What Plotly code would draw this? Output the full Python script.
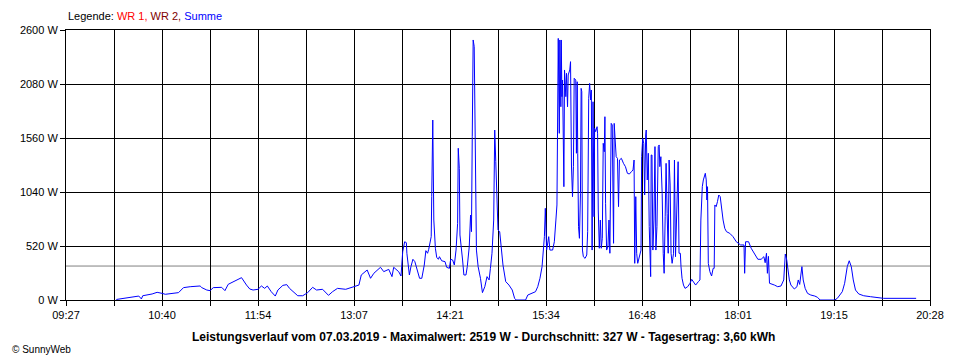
import plotly.graph_objects as go

# ---- data ----
minutes = [
    605.5, 615.1, 622.7, 624.7, 625.7, 632.9, 636.7, 640.5, 643.0, 653.1, 656.9, 662.0, 669.6, 670.9,
    674.7, 677.2, 679.7, 686.1, 688.6, 691.1, 696.2, 701.3, 705.1, 707.6, 710.1, 713.9, 716.5, 719.0,
    721.0, 724.0, 727.1, 729.1, 732.9, 735.9, 738.0, 741.8, 744.3, 748.1, 751.9, 755.7, 758.7, 763.3,
    767.8, 770.9, 774.7, 781.0, 786.1, 788.6, 791.1, 792.9, 797.4, 800.0, 802.5, 807.6, 810.1, 813.9,
    816.4, 817.7, 820.2, 821.5, 823.3, 824.6, 826.1, 827.4, 827.8, 828.9, 829.7, 830.9, 832.4, 833.9,
    835.4, 837.5, 839.2, 841.1, 842.3, 843.6, 844.5, 845.6, 846.4, 846.8, 847.6, 848.4, 848.9, 849.6,
    850.6, 851.9, 852.7, 854.4, 857.0, 858.2, 860.3, 861.3, 862.8, 864.1, 865.4, 866.1, 866.6, 867.1,
    867.9, 868.4, 869.6, 870.4, 871.4, 873.0, 874.0, 875.5, 876.5, 877.2, 877.8, 878.5, 879.3, 880.0,
    881.0, 882.3, 884.1, 885.6, 887.4, 889.1, 890.7, 891.7, 892.9, 894.2, 895.0, 895.8, 896.5, 897.5,
    898.8, 900.0, 901.3, 903.4, 905.9, 908.4, 910.2, 911.4, 918.6, 920.3, 922.8, 926.2, 927.9, 929.6,
    931.2, 932.2, 933.0, 933.7, 934.7, 936.3, 937.2, 939.3, 940.6, 941.8, 942.6, 943.6, 944.4, 944.8,
    945.6, 945.9, 946.4, 946.9, 947.4, 947.9, 948.4, 949.4, 949.9, 950.7, 951.2, 952.4, 953.0, 953.7,
    954.5, 955.2, 955.8, 957.0, 957.5, 958.1, 958.5, 959.1, 959.8, 960.6, 961.1, 961.6, 962.1, 962.8,
    964.1, 965.4, 966.1, 966.9, 967.6, 968.4, 968.9, 969.5, 970.2, 971.0, 971.4, 972.2, 973.3, 973.7,
    974.2, 975.0, 975.8, 976.5, 977.3, 978.0, 978.8, 979.3, 979.8, 980.6, 981.6, 982.4, 983.1, 984.1,
    984.9, 985.4, 985.9, 986.4, 987.2, 987.9, 988.9, 989.7, 990.4, 991.9, 993.5, 995.0, 996.5, 998.0,
    999.6, 1000.8, 1001.6, 1002.1, 1002.9, 1003.6, 1004.4, 1005.6, 1006.9, 1007.4, 1008.2, 1009.0,
    1009.7, 1010.5, 1010.9, 1011.7, 1012.5, 1013.2, 1013.8, 1014.3, 1014.7, 1015.3, 1016.0, 1016.8,
    1017.6, 1018.3, 1019.1, 1020.1, 1020.8, 1021.3, 1022.1, 1023.1, 1023.9, 1024.6, 1025.4, 1026.1,
    1026.9, 1027.7, 1028.4, 1029.2, 1029.9, 1030.7, 1031.8, 1032.5, 1033.3, 1034.0, 1034.8, 1035.3,
    1036.0, 1037.0, 1037.5, 1038.3, 1039.4, 1040.6, 1042.6, 1044.4, 1045.7, 1047.0, 1048.7, 1050.8,
    1052.0, 1052.7, 1053.8, 1054.6, 1055.3, 1056.1, 1056.8, 1057.3, 1057.8, 1058.4, 1059.6, 1060.9,
    1062.1, 1062.9, 1063.4, 1064.4, 1065.4, 1066.4, 1067.5, 1068.5, 1069.7, 1071.0, 1072.3, 1074.8,
    1077.3, 1079.8, 1082.4, 1083.1, 1085.7, 1086.2, 1086.9, 1089.2, 1091.2, 1093.8, 1096.3, 1098.8,
    1100.9, 1101.9, 1102.9, 1103.6, 1104.4, 1105.2, 1107.0, 1109.0, 1111.5, 1114.0, 1116.1, 1117.3,
    1118.4, 1119.4, 1120.4, 1121.6, 1124.2, 1126.2, 1127.2, 1128.3, 1129.2, 1130.0, 1131.0, 1132.5,
    1134.3, 1136.8, 1139.9, 1141.9, 1143.9, 1155.1, 1157.1, 1160.9, 1162.7, 1164.7, 1166.2, 1167.8,
    1169.3, 1171.0, 1173.5, 1177.3, 1182.4, 1186.2, 1192.5, 1217.4,
]
summe_w = [
    5, 20, 38, 10, 41, 58, 74, 64, 55, 71, 119, 128, 135, 119,
    96, 90, 119, 122, 90, 151, 186, 215, 144, 106, 96, 103, 135, 112,
    135, 80, 38, 96, 141, 148, 112, 64, 41, 41, 71, 122, 96, 103,
    45, 80, 112, 103, 122, 135, 144, 241, 289, 209, 257, 315, 273, 295,
    225, 315, 289, 273, 231, 465, 561, 552, 450, 337, 241, 321, 392, 369,
    305, 209, 209, 337, 475, 450, 488, 578, 610, 995, 1733, 770, 642, 498,
    411, 392, 417, 378, 369, 315, 305, 392, 385, 337, 481, 642, 738, 1461,
    1268, 626, 513, 385, 241, 241, 321, 513, 818, 658, 1573, 2504, 2440, 1573,
    481, 321, 209, 71, 128, 225, 193, 305, 450, 770, 1637, 1332, 947, 674,
    658, 530, 337, 177, 144, 96, 16, 0, 0, 48, 64, 80, 128, 209,
    321, 481, 610, 883, 481, 610, 481, 481, 561, 770, 915, 2519, 1605, 2504,
    1861, 2504, 1958, 2118, 1252, 1091, 2215, 1958, 2183, 1861, 2167, 2215, 2295, 1300,
    995, 1284, 2135, 2118, 1413, 2102, 1413, 706, 594, 1027, 2038, 2006, 481, 417,
    401, 433, 658, 1942, 2086, 1926, 2022, 481, 1909, 802, 1653, 1621, 1669, 1600,
    867, 498, 770, 498, 594, 1509, 1428, 1765, 931, 481, 513, 770, 450, 1701,
    1685, 947, 546, 1701, 1428, 1380, 1364, 899, 1348, 1364, 1316, 1284, 1220, 1213,
    1236, 1252, 1348, 353, 995, 450, 353, 433, 481, 1380, 1557, 1509,
    1011, 1589, 1637, 1156, 1413, 706, 305, 225, 1396, 1396, 481, 770,
    1477, 481, 706, 1477, 1493, 1284, 1380, 1027, 450, 257, 802, 1316,
    834, 450, 1348, 1107, 450, 353, 450, 1348, 417, 770, 1172, 1332,
    450, 450, 321, 209, 144, 112, 128, 161, 199, 177, 144, 177,
    193, 770, 1091, 1156, 1188, 1220, 1156, 963, 1091, 353, 273, 231,
    305, 305, 915, 899, 947, 1011, 995, 867, 770, 690, 658, 642,
    610, 561, 539, 530, 530, 257, 561, 561, 498, 450, 392, 392,
    417, 359, 450, 257, 420, 161, 154, 144, 128, 135, 193, 443,
    385, 273, 193, 144, 106, 128, 193, 150, 257, 321, 193, 112,
    64, 48, 38, 26, 0, 0, 16, 80, 161, 321, 378, 321,
    193, 96, 58, 41, 32, 26, 16, 16,
]
average_w = 327

x_tick_labels = ["09:27", "10:40", "11:54", "13:07", "14:21", "15:34", "16:48", "18:01", "19:15", "20:28"]
y_tick_values = [0, 520, 1040, 1560, 2080, 2600]

legend_parts = [("Legende: ", "#000000"), ("WR 1, ", "#FF0000"), ("WR 2, ", "#800000"), ("Summe", "#0000FF")]
title_text = ("Leistungsverlauf vom 07.03.2019 - Maximalwert: 2519 W - Durchschnitt: 327 W"
              " - Tagesertrag: 3,60 kWh")
footer_text = "© SunnyWeb"


def to_min(s):
    h, m = s.split(":")
    return int(h) * 60 + int(m)


x_start = to_min(x_tick_labels[0])
x_end = to_min(x_tick_labels[-1])
n_div = 2 * (len(x_tick_labels) - 1)
tickvals = [x_start + k * (x_end - x_start) / n_div for k in range(n_div + 1)]
ticktext = [x_tick_labels[k // 2] if k % 2 == 0 else "" for k in range(n_div + 1)]

FONT = "Liberation Sans, Arial, sans-serif"

fig = go.Figure()
fig.add_trace(go.Scatter(
    x=minutes, y=summe_w, mode="lines",
    line=dict(color="#0000FF", width=1),
    hoverinfo="skip", showlegend=False,
))

fig.add_shape(type="line", xref="paper", x0=0, x1=1, yref="y", y0=average_w, y1=average_w,
              line=dict(color="#808080", width=1), layer="below")

# the page body has an 8px margin, so the figure is 8px smaller and margins shifted
fig.update_layout(
    width=952, height=352,
    margin=dict(l=52, r=30, t=22, b=60),
    paper_bgcolor="white", plot_bgcolor="white",
    font=dict(family=FONT, size=11, color="black"),
    showlegend=False,
    xaxis=dict(
        range=[x_start, x_end], tickmode="array", tickvals=tickvals, ticktext=ticktext,
        showgrid=True, gridcolor="black", gridwidth=1,
        ticks="outside", ticklen=5, tickcolor="black", tickwidth=1,
        showline=True, linecolor="black", linewidth=1, mirror=True,
        zeroline=False, fixedrange=True,
    ),
    yaxis=dict(
        range=[0, 2600], tickmode="array", tickvals=y_tick_values,
        ticktext=[f"{v} W" for v in y_tick_values],
        showgrid=True, gridcolor="black", gridwidth=1,
        ticks="outside", ticklen=5, tickcolor="black", tickwidth=1,
        showline=True, linecolor="black", linewidth=1, mirror=True,
        zeroline=False, fixedrange=True,
    ),
)

legend_html = "".join(f"<span style='color:{c}'>{t}</span>" for t, c in legend_parts)
fig.add_annotation(xref="paper", yref="paper", x=0, y=(300 - 16) / 270, xanchor="left", yanchor="middle",
                   text=legend_html, showarrow=False, font=dict(size=11, family=FONT))
fig.add_annotation(xref="paper", yref="paper", x=(480 - 60) / 870, y=(300 - 337) / 270,
                   xanchor="center", yanchor="middle", text=f"<b>{title_text}</b>", showarrow=False,
                   font=dict(size=12, family=FONT))
fig.add_annotation(xref="paper", yref="paper", x=(4 - 60) / 870, y=(300 - 349) / 270,
                   xanchor="left", yanchor="middle", text=footer_text, showarrow=False,
                   font=dict(size=10, family=FONT))

fig.write_html("out.html")
